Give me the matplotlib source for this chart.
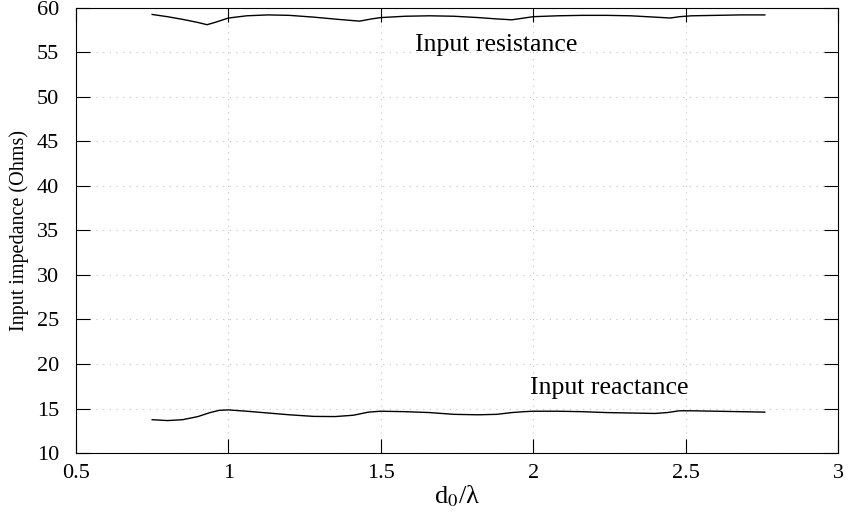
import matplotlib.pyplot as plt

plt.rcParams['font.family'] = ['Liberation Serif', 'DejaVu Serif']
plt.rcParams['mathtext.fontset'] = 'stix'

# d0/lambda sample points
d_res = [0.75, 0.80, 0.85, 0.90, 0.93, 0.96, 1.00, 1.06, 1.13, 1.20, 1.28, 1.36, 1.43, 1.47, 1.50,
         1.58, 1.66, 1.74, 1.82, 1.88, 1.93, 1.97, 2.00, 2.08, 2.16, 2.24, 2.32, 2.40, 2.45,
         2.48, 2.52, 2.60, 2.68, 2.76]
resistance = [59.25, 59.0, 58.7, 58.35, 58.1, 58.4, 58.85, 59.1, 59.2, 59.15, 58.95, 58.7, 58.5, 58.75, 58.9,
              59.05, 59.1, 59.05, 58.9, 58.75, 58.65, 58.85, 59.0, 59.1, 59.15, 59.15, 59.1, 58.95, 58.85,
              59.0, 59.1, 59.15, 59.2, 59.2]

d_rea = [0.75, 0.80, 0.85, 0.90, 0.94, 0.97, 1.00, 1.06, 1.13, 1.20, 1.28, 1.35, 1.41, 1.46, 1.50,
         1.58, 1.66, 1.74, 1.82, 1.88, 1.93, 1.97, 2.00, 2.08, 2.16, 2.24, 2.32, 2.40, 2.44,
         2.48, 2.52, 2.60, 2.68, 2.76]
reactance = [13.75, 13.65, 13.75, 14.1, 14.55, 14.8, 14.85, 14.7, 14.5, 14.3, 14.12, 14.1, 14.25, 14.6, 14.7,
             14.65, 14.55, 14.35, 14.3, 14.35, 14.55, 14.65, 14.7, 14.7, 14.65, 14.55, 14.5, 14.45, 14.55,
             14.75, 14.75, 14.7, 14.65, 14.6]

fig, ax = plt.subplots(figsize=(8.49, 5.19), dpi=100)
fig.subplots_adjust(left=0.0895, right=0.987, top=0.985, bottom=0.127)

ax.plot(d_res, resistance, color='black', linewidth=1.0)
ax.plot(d_rea, reactance, color='black', linewidth=1.0)

ax.text(1.88, 55.8, 'Input resistance', fontsize=18.5, ha='center', va='center')
ax.text(2.25, 17.3, 'Input reactance', fontsize=18.5, ha='center', va='center')

ax.set_xlim(0.5, 3)
ax.set_ylim(10, 60)
ax.set_xticks([0.5, 1, 1.5, 2, 2.5, 3])
ax.set_xticklabels(['0.5', '1', '1.5', '2', '2.5', '3'])
ax.set_yticks(range(10, 61, 5))
ax.tick_params(direction='in', length=10, labelsize=16, top=True, right=True)
ax.tick_params(axis='y', pad=12)
ax.tick_params(axis='x', pad=8)
ax.grid(True, linestyle=(0, (1, 5)), color='#c0c0c0', linewidth=0.8)

ax.set_xlabel(r'd$_0$/λ', fontsize=19, labelpad=0)
ax.set_ylabel('Input impedance (Ohms)', fontsize=14.5, labelpad=6)

fig.savefig('out.png', dpi=100)
